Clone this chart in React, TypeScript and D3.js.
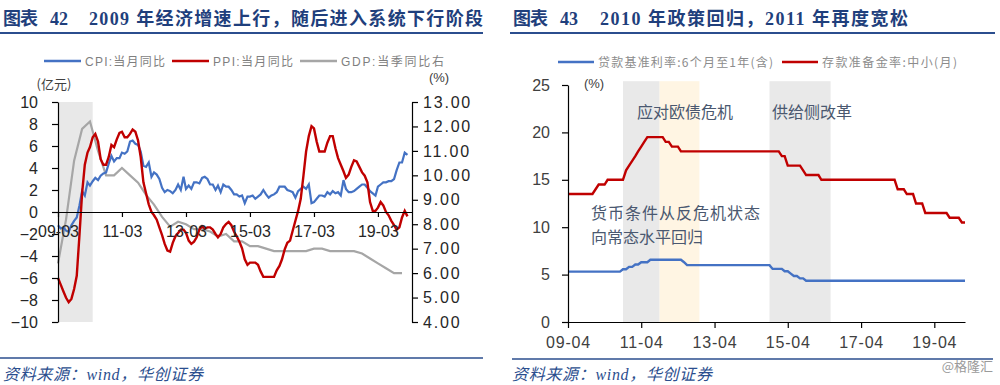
import React, { useEffect, useRef } from 'react';
import * as d3 from 'd3';

// ---------- left panel: CPI / PPI monthly yoy, GDP quarterly yoy ----------
const leftStart = '2009-03';
const cpiYoy = [
  -1.2, -1.5, -1.4, -1.7, -1.8, -1.2, -0.8, -0.5, 0.6, 1.9,
  1.5, 2.7, 2.4, 2.8, 3.1, 2.9, 3.3, 3.5, 3.6, 4.4, 5.1, 4.6,
  4.9, 4.9, 5.4, 5.3, 5.5, 6.4, 6.5, 6.2, 6.1, 5.5, 4.2, 4.1,
  4.5, 3.2, 3.6, 3.4, 3.0, 2.2, 1.8, 2.0, 1.9, 1.7, 2.0, 2.5,
  2.0, 3.2, 2.1, 2.4, 2.1, 2.7, 2.7, 2.6, 3.1, 3.2, 3.0, 2.5,
  2.5, 2.0, 2.4, 1.8, 2.5, 2.3, 2.3, 2.0, 1.6, 1.6, 1.4, 1.5,
  0.8, 1.4, 1.4, 1.5, 1.2, 1.4, 1.6, 2.0, 1.6, 1.3, 1.5, 1.6,
  1.8, 2.3, 2.3, 2.3, 2.0, 1.9, 1.8, 1.3, 1.9, 2.1, 2.3, 2.1,
  2.5, 0.8, 0.9, 1.2, 1.5, 1.5, 1.4, 1.8, 1.6, 1.9, 1.7, 1.8,
  1.5, 2.9, 2.1, 1.8, 1.8, 1.9, 2.1, 2.3, 2.5, 2.5, 2.2, 1.9,
  1.7, 1.5, 2.3, 2.5, 2.7, 2.7, 2.8, 2.8, 3.0, 3.8, 4.5, 4.5,
  5.4, 5.2,
];
const ppiYoy = [
  -6.0, -6.6, -7.2, -7.8, -8.2, -7.9, -7.0, -5.8, -2.1, 1.7,
  4.3, 5.4, 5.9, 6.8, 7.1, 6.4, 4.8, 4.3, 4.3, 5.0, 6.1, 5.9,
  6.6, 7.2, 7.3, 6.8, 6.8, 7.1, 7.5, 7.3, 6.5, 5.0, 2.7, 1.7,
  0.7, 0.0, -0.3, -0.7, -1.4, -2.1, -2.9, -3.5, -3.6, -2.8, -2.2, -1.9,
  -1.6, -1.6, -1.9, -2.6, -2.9, -2.7, -2.3, -1.6, -1.3, -1.5, -1.4, -1.4,
  -1.6, -2.0, -2.3, -2.0, -1.4, -1.1, -0.9, -1.2, -1.8, -2.2, -2.7, -3.3,
  -4.3, -4.8, -4.6, -4.6, -4.6, -4.8, -5.4, -5.9, -5.9, -5.9, -5.9, -5.9,
  -5.3, -4.9, -4.3, -3.4, -2.8, -2.6, -1.7, -0.8, 0.1, 1.2, 3.3, 5.5,
  6.9, 7.8, 7.6, 6.4, 5.5, 5.5, 5.5, 6.3, 6.9, 6.9, 5.8, 4.9,
  4.3, 3.7, 3.1, 3.4, 4.1, 4.7, 4.6, 4.1, 3.6, 3.3, 2.7, 0.9,
  0.1, 0.1, 0.4, 0.9, 0.6, 0.0, -0.3, -0.8, -1.2, -1.6, -1.4, -0.5,
  0.1, -0.4,
];
// quarterly, 2009Q1 .. 2019Q4 (right axis)
const gdpYoy = [
  6.4, 8.2, 10.6, 11.9,
  12.2, 11.0, 10.0, 10.0,
  10.3, 10.0, 9.7, 9.2,
  8.8, 8.3, 7.9, 8.1,
  8.0, 7.8, 7.8, 7.7,
  7.5, 7.6, 7.3, 7.3,
  7.1, 7.1, 7.0, 6.9,
  6.9, 6.9, 6.9, 6.9,
  7.0, 7.0, 6.9, 6.9,
  6.9, 6.9, 6.8, 6.6,
  6.4, 6.2, 6.0, 6.0,
];
const leftTicks = ['09-03', '11-03', '13-03', '15-03', '17-03', '19-03'];
const leftNames = ['CPI:当月同比', 'PPI:当月同比', 'GDP:当季同比右'];
const leftShade = ['2009-03', '2010-04'];

// ---------- right panel: lending rate and RRR (small/medium banks), monthly ----------
const rightStart = '2009-04';
const loanRate = [
  5.31, 5.31, 5.31, 5.31, 5.31, 5.31, 5.31, 5.31, 5.31,
  5.31, 5.31, 5.31, 5.31, 5.31, 5.31, 5.31, 5.31, 5.31, 5.56, 5.56, 5.81,
  5.81, 6.06, 6.06, 6.31, 6.31, 6.31, 6.56, 6.56, 6.56, 6.56, 6.56, 6.56,
  6.56, 6.56, 6.56, 6.56, 6.56, 6.31, 6.0, 6.0, 6.0, 6.0, 6.0, 6.0,
  6.0, 6.0, 6.0, 6.0, 6.0, 6.0, 6.0, 6.0, 6.0, 6.0, 6.0, 6.0,
  6.0, 6.0, 6.0, 6.0, 6.0, 6.0, 6.0, 6.0, 6.0, 6.0, 5.6, 5.6,
  5.6, 5.6, 5.35, 5.35, 5.1, 4.85, 4.85, 4.6, 4.6, 4.35, 4.35, 4.35,
  4.35, 4.35, 4.35, 4.35, 4.35, 4.35, 4.35, 4.35, 4.35, 4.35, 4.35, 4.35,
  4.35, 4.35, 4.35, 4.35, 4.35, 4.35, 4.35, 4.35, 4.35, 4.35, 4.35, 4.35,
  4.35, 4.35, 4.35, 4.35, 4.35, 4.35, 4.35, 4.35, 4.35, 4.35, 4.35, 4.35,
  4.35, 4.35, 4.35, 4.35, 4.35, 4.35, 4.35, 4.35, 4.35, 4.35, 4.35, 4.35,
  4.35, 4.35,
];
const rrrSmall = [
  13.5, 13.5, 13.5, 13.5, 13.5, 13.5, 13.5, 13.5, 13.5,
  14.0, 14.5, 14.5, 14.5, 15.0, 15.0, 15.0, 15.0, 15.0, 15.0, 16.0, 16.5,
  17.0, 17.5, 18.0, 18.5, 19.0, 19.5, 19.5, 19.5, 19.5, 19.5, 19.5, 19.0,
  19.0, 18.5, 18.5, 18.5, 18.0, 18.0, 18.0, 18.0, 18.0, 18.0, 18.0, 18.0,
  18.0, 18.0, 18.0, 18.0, 18.0, 18.0, 18.0, 18.0, 18.0, 18.0, 18.0, 18.0,
  18.0, 18.0, 18.0, 18.0, 18.0, 18.0, 18.0, 18.0, 18.0, 18.0, 18.0, 18.0,
  18.0, 17.5, 17.5, 16.5, 16.5, 16.5, 16.5, 16.5, 16.0, 15.5, 15.5, 15.5,
  15.5, 15.5, 15.0, 15.0, 15.0, 15.0, 15.0, 15.0, 15.0, 15.0, 15.0, 15.0,
  15.0, 15.0, 15.0, 15.0, 15.0, 15.0, 15.0, 15.0, 15.0, 15.0, 15.0, 15.0,
  15.0, 15.0, 15.0, 14.0, 14.0, 14.0, 13.5, 13.5, 13.5, 12.5, 12.5, 12.5,
  11.5, 11.5, 11.5, 11.5, 11.5, 11.5, 11.5, 11.5, 11.0, 11.0, 11.0, 11.0,
  10.5, 10.5,
];
const rightTicks = ['09-04', '11-04', '13-04', '15-04', '17-04', '19-04'];
const rightNames = ['贷款基准利率:6个月至1年(含)', '存款准备金率:中小(月)'];
const bandFrom = ['2010-10', '2011-10', '2014-10'];
const bandTo = ['2011-10', '2012-11', '2016-06'];
const bandKind = ['grey', 'yellow', 'grey'];
const notes = ['应对欧债危机', '供给侧改革', '货币条件从反危机状态', '向常态水平回归'];

const parseMonth = d3.timeParse('%Y-%m');
const parseTick = d3.timeParse('%y-%m');
const SANS = "'Liberation Sans', Arial, 'Noto Sans CJK SC', sans-serif";
const CJK = "'Noto Sans CJK SC', 'Liberation Sans', sans-serif";
const SERIF = "'Liberation Serif', 'Noto Sans CJK SC', serif";
const NAVY = '#1f3f7c';
const BLUE = '#4472c4';
const RED = '#c00000';
const GREY = '#a6a6a6';

function styleAxis(g: any, size: number, color: string) {
  g.selectAll('path').attr('stroke', '#000').attr('stroke-width', 1.2);
  g.selectAll('line').attr('stroke', '#000').attr('stroke-width', 1.2);
  g.selectAll('text').attr('font-family', SANS).attr('font-size', size).attr('fill', color);
}

function drawLeft(svg: any) {
  const start = parseMonth(leftStart) as Date;
  const x = d3.scaleTime().domain([start, new Date(2020, 2, 24)]).range([58, 412]);
  const y = d3.scaleLinear().domain([-10, 10]).range([322, 102]);
  const y2 = d3.scaleLinear().domain([4, 13]).range([322, 102]);
  const month = (i: number) => d3.timeMonth.offset(start, i);

  // shaded period
  svg.append('rect')
    .attr('x', x(parseMonth(leftShade[0]) as Date))
    .attr('width', x(parseMonth(leftShade[1]) as Date) - x(parseMonth(leftShade[0]) as Date))
    .attr('y', y(10)).attr('height', y(-10) - y(10))
    .attr('fill', '#e8e8e8');

  const line = d3.line<number>().x((d, i) => x(month(i))).y(d => y(d));
  const gdpLine = d3.line<number>().x((d, i) => x(month(i * 3))).y(d => y2(d));

  svg.append('path').attr('d', gdpLine(gdpYoy)).attr('fill', 'none').attr('stroke', GREY).attr('stroke-width', 2.2);
  svg.append('path').attr('d', line(cpiYoy)).attr('fill', 'none').attr('stroke', BLUE).attr('stroke-width', 2.2);
  svg.append('path').attr('d', line(ppiYoy)).attr('fill', 'none').attr('stroke', RED).attr('stroke-width', 2.4);

  const gl = svg.append('g').attr('transform', 'translate(58,0)')
    .call(d3.axisLeft(y).tickValues(d3.range(-10, 11, 2)).tickSize(6).tickSizeOuter(0).tickPadding(14));
  styleAxis(gl, 16, '#262626');

  const gr = svg.append('g').attr('transform', 'translate(412,0)')
    .call(d3.axisRight(y2).tickValues(d3.range(4, 14)).tickFormat(d3.format('.2f')).tickSize(6).tickSizeOuter(0).tickPadding(5));
  styleAxis(gr, 16, '#262626');
  gr.selectAll('text').attr('letter-spacing', 1.8);

  const gx = svg.append('g').attr('transform', `translate(0,${y(0)})`)
    .call(d3.axisBottom(x).tickValues(leftTicks.map(t => parseTick(t) as Date))
      .tickFormat(d3.timeFormat('%y-%m') as any).tickSize(5).tickSizeOuter(0).tickPadding(9));
  styleAxis(gx, 16, '#262626');

  svg.append('text').attr('x', 54).attr('y', 89).attr('text-anchor', 'middle')
    .attr('font-family', CJK).attr('font-size', 13).attr('fill', '#404040').text('(亿元)');
  svg.append('text').attr('x', 439).attr('y', 82).attr('text-anchor', 'middle')
    .attr('font-family', SANS).attr('font-size', 13).attr('fill', '#404040').text('(%)');

  // legend
  const colors = [BLUE, RED, GREY];
  const lx = [44, 172, 300];
  const tw = [80, 80, 103];
  leftNames.forEach((name, i) => {
    svg.append('line').attr('x1', lx[i]).attr('x2', lx[i] + 37).attr('y1', 61).attr('y2', 61)
      .attr('stroke', colors[i]).attr('stroke-width', 2.5);
    svg.append('text').attr('x', lx[i] + 41).attr('y', 65.5)
      .attr('font-family', SANS).attr('font-size', 12).attr('fill', '#7f7f7f')
      .attr('textLength', tw[i]).attr('lengthAdjust', 'spacing').text(name);
  });
}

function drawRight(svg: any) {
  const start = parseMonth(rightStart) as Date;
  const x = d3.scaleTime().domain([start, new Date(2020, 1, 1)]).range([568, 965]);
  const y = d3.scaleLinear().domain([0, 25]).range([322, 85]);
  const month = (i: number) => d3.timeMonth.offset(start, i);

  bandFrom.forEach((f, i) => {
    const x0 = x(parseMonth(f) as Date);
    const x1 = x(parseMonth(bandTo[i]) as Date);
    svg.append('rect').attr('x', x0).attr('width', x1 - x0)
      .attr('y', y(25.4)).attr('height', y(0) - y(25.4))
      .attr('fill', bandKind[i] === 'grey' ? '#e9e9e9' : '#fff5e3');
  });

  const line = d3.line<number>().x((d, i) => x(month(i))).y(d => y(d));
  svg.append('path').attr('d', line(loanRate)).attr('fill', 'none').attr('stroke', BLUE).attr('stroke-width', 2.4);
  svg.append('path').attr('d', line(rrrSmall)).attr('fill', 'none').attr('stroke', RED).attr('stroke-width', 2.4);

  const gy = svg.append('g').attr('transform', 'translate(568,0)')
    .call(d3.axisLeft(y).tickValues(d3.range(0, 26, 5)).tickSize(6).tickSizeOuter(0).tickPadding(12));
  styleAxis(gy, 16, '#404040');

  const gx = svg.append('g').attr('transform', `translate(0,${y(0)})`)
    .call(d3.axisBottom(x).tickValues(rightTicks.map(t => parseTick(t) as Date))
      .tickFormat(d3.timeFormat('%y-%m') as any).tickSize(6).tickSizeOuter(0).tickPadding(9));
  styleAxis(gx, 16, '#404040');
  gx.selectAll('text').attr('letter-spacing', 0.8);

  svg.append('text').attr('x', 594).attr('y', 88).attr('text-anchor', 'middle')
    .attr('font-family', SANS).attr('font-size', 13).attr('fill', '#404040').text('(%)');

  // annotations
  const noteStyle = (t: any) => t.attr('font-family', CJK).attr('font-size', 16).attr('fill', '#4a5870');
  noteStyle(svg.append('text').attr('x', 637).attr('y', 118).text(notes[0]));
  noteStyle(svg.append('text').attr('x', 772).attr('y', 118).text(notes[1]));
  noteStyle(svg.append('text').attr('x', 591).attr('y', 219).attr('textLength', 169).attr('lengthAdjust', 'spacing').text(notes[2]));
  noteStyle(svg.append('text').attr('x', 591).attr('y', 243).attr('textLength', 112).attr('lengthAdjust', 'spacing').text(notes[3]));

  // legend
  const colors = [BLUE, RED];
  const lx = [558, 782];
  const tw = [175, 135];
  rightNames.forEach((name, i) => {
    svg.append('line').attr('x1', lx[i]).attr('x2', lx[i] + 36).attr('y1', 62).attr('y2', 62)
      .attr('stroke', colors[i]).attr('stroke-width', 2.5);
    svg.append('text').attr('x', lx[i] + 40).attr('y', 66.5)
      .attr('font-family', CJK).attr('font-size', 12).attr('fill', '#8c8c8c')
      .attr('textLength', tw[i]).attr('lengthAdjust', 'spacing').text(name);
  });
}

function drawFrame(svg: any) {
  const title = (x0: number, num: string, body: string, bodyX: number, bodyW: number) => {
    const g = svg.append('g').attr('font-family', SERIF).attr('font-weight', 'bold').attr('fill', NAVY).attr('font-size', 18);
    g.append('text').attr('x', x0).attr('y', 25).attr('textLength', 35).attr('lengthAdjust', 'spacing').text('图表');
    g.append('text').attr('x', x0 + 47).attr('y', 25).text(num);
    g.append('text').attr('x', bodyX).attr('y', 25).attr('textLength', bodyW).attr('lengthAdjust', 'spacing').text(body);
  };
  title(3, '42', '2009 年经济增速上行，随后进入系统下行阶段', 89, 394);
  title(513, '43', '2010 年政策回归，2011 年再度宽松', 600, 308);

  svg.append('line').attr('x1', 0).attr('x2', 483).attr('y1', 33).attr('y2', 33).attr('stroke', '#2b4e8e').attr('stroke-width', 2);
  svg.append('line').attr('x1', 510).attr('x2', 995).attr('y1', 33).attr('y2', 33).attr('stroke', '#2b4e8e').attr('stroke-width', 2);
  svg.append('line').attr('x1', 0).attr('x2', 483).attr('y1', 358).attr('y2', 358).attr('stroke', '#2b4e8e').attr('stroke-width', 1.5);
  svg.append('line').attr('x1', 512).attr('x2', 993).attr('y1', 359).attr('y2', 359).attr('stroke', '#2b4e8e').attr('stroke-width', 1.5);

  [3, 512].forEach(sx => {
    svg.append('text').attr('x', sx).attr('y', 380).attr('font-family', SERIF).attr('font-style', 'italic')
      .attr('font-size', 16).attr('fill', '#2b4e8e').attr('textLength', 200).attr('lengthAdjust', 'spacing')
      .text('资料来源：wind，华创证券');
  });
  svg.append('text').attr('x', 993).attr('y', 371).attr('text-anchor', 'end').attr('font-family', CJK)
    .attr('font-size', 13).attr('fill', '#9a9a9a').text('@格隆汇');
}

export default function App() {
  const ref = useRef<SVGSVGElement>(null);

  useEffect(() => {
    const svg = d3.select(ref.current);
    svg.selectAll('*').remove();
    svg.append('rect').attr('width', 1000).attr('height', 385).attr('fill', '#fff');
    drawLeft(svg);
    drawRight(svg);
    drawFrame(svg);
  }, []);

  return (
    <svg ref={ref} width={1000} height={385} style={{ position: 'absolute', left: 0, top: 0 }} />
  );
}
